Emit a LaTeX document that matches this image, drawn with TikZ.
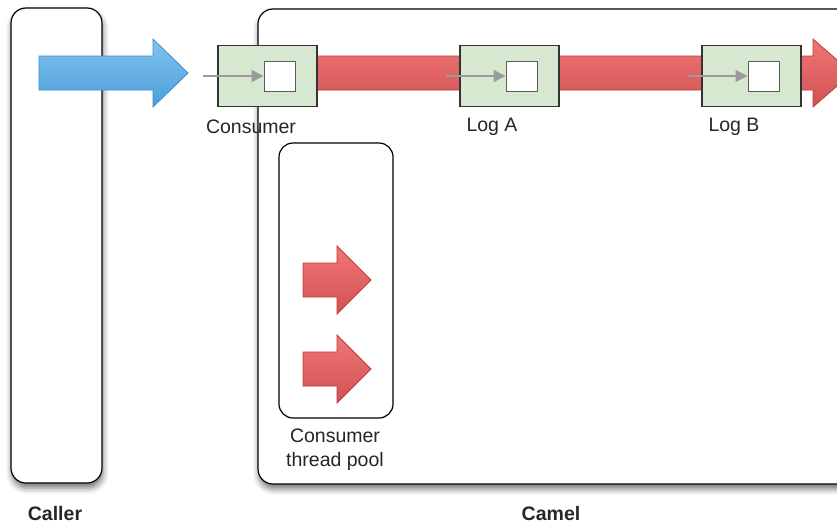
\documentclass[tikz,border=0pt]{standalone}
\usepackage{fontspec}
\setmainfont{Liberation Sans}
\usetikzlibrary{shadows.blur,arrows.meta}
\definecolor{bluetop}{HTML}{84C4EE}
\definecolor{bluebot}{HTML}{4A9EDB}
\definecolor{blueedge}{HTML}{3A8DD0}
\definecolor{redtop}{HTML}{F07676}
\definecolor{redbot}{HTML}{D25252}
\definecolor{rededge}{HTML}{C23A3A}
\definecolor{stepfill}{HTML}{D6E8D0}
\definecolor{edgegray}{HTML}{333333}
\definecolor{tipgray}{HTML}{9A9A9A}
\tikzset{
  container/.style={draw=black, line width=1.2pt, rounded corners=15pt, fill=white,
    blur shadow={shadow xshift=1pt, shadow yshift=-5pt, shadow blur radius=6pt, shadow opacity=55}},
  stepbox/.style={draw=edgegray, line width=1.2pt, fill=stepfill},
  innerbox/.style={draw=edgegray!80, line width=1pt, fill=white},
  bluearrow/.style={top color=bluetop, bottom color=bluebot, draw=blueedge, line width=0.8pt},
  redarrow/.style={top color=redtop, bottom color=redbot, draw=rededge, line width=0.8pt},
  feed/.style={draw=tipgray, line width=1.3pt, -{Triangle[length=12pt,width=12pt]}},
  lbl/.style={font=\fontsize{19.5}{23}\selectfont, text=black!85, inner sep=0pt},
  title/.style={font=\fontsize{19.5}{23}\selectfont\bfseries, text=black!85, inner sep=0pt}
}
\begin{document}
\begin{tikzpicture}[x=1pt,y=-1pt]
\useasboundingbox (0,0) rectangle (837,525);
\clip (0,0) rectangle (837,525);
% containers
\draw[container] (11,8) rectangle (102,483);
\draw[container] (258,9) rectangle (870,484);
% pool
\draw[draw=black, line width=1.2pt, rounded corners=14pt, fill=white] (279,143) rectangle (393,418);
% blue arrow
\draw[bluearrow] (39,56) -- (153,56) -- (153,39) -- (188,73) -- (153,107) -- (153,90) -- (39,90) -- cycle;
% red pipeline
\draw[redarrow] (317,56) -- (813,56) -- (813,39) -- (852,73) -- (813,107) -- (813,90) -- (317,90) -- cycle;
% step boxes
\node[stepbox, minimum width=99pt, minimum height=61pt, inner sep=0pt] (consumer) at (267.5,76) {};
\node[stepbox, minimum width=99pt, minimum height=61pt, inner sep=0pt] (loga) at (509.5,76) {};
\node[stepbox, minimum width=99pt, minimum height=61pt, inner sep=0pt] (logb) at (751.5,76) {};
\node[innerbox, minimum width=31pt, minimum height=30pt, inner sep=0pt] (ic) at (279.5,76) {};
\node[innerbox, minimum width=31pt, minimum height=30pt, inner sep=0pt] (ia) at (521.5,76) {};
\node[innerbox, minimum width=31pt, minimum height=30pt, inner sep=0pt] (ib) at (763.5,76) {};
\coordinate (fc) at (203,76);
\coordinate (fa) at (446,76);
\coordinate (fb) at (688,76);
\draw[feed] (fc) -- (ic.west);
\draw[feed] (fa) -- (ia.west);
\draw[feed] (fb) -- (ib.west);
% pool arrows
\draw[redarrow] (303,263) -- (337,263) -- (337,246) -- (371,280) -- (337,314) -- (337,297) -- (303,297) -- cycle;
\draw[redarrow] (303,352) -- (337,352) -- (337,335) -- (371,369) -- (337,403) -- (337,386) -- (303,386) -- cycle;
% labels
\node[lbl] (lc) at (251,127) {Consumer};
\node[lbl] (la) at (492,127) {Log A};
\node[lbl] (lb) at (734,127) {Log B};
\node[lbl, align=center, font=\fontsize{19.5}{24}\selectfont] (lp) at (335,450) {Consumer\\thread pool};
\node[title] (tcaller) at (55,514) {Caller};
\node[title] (tcamel) at (551,514) {Camel};
\end{tikzpicture}
\end{document}
